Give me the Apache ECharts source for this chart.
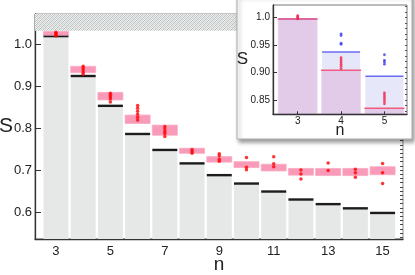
<!DOCTYPE html>
<html>
<head>
<meta charset="utf-8">
<script src="https://cdn.jsdelivr.net/npm/echarts@6/dist/echarts.min.js"></script>
<style>html,body{margin:0;padding:0;background:#fff}#c{width:415px;height:275px}</style>
</head>
<body>
<div id="c"></div>
<script>
// ---------- main chart data ----------
const nMain = [3,4,5,6,7,8,9,10,11,12,13,14,15];
const mainLine = [1.019,0.924,0.853,0.786,0.748,0.716,0.688,0.668,0.649,0.630,0.619,0.609,0.598];
const boxLow  = [1.021,0.932,0.867,0.811,0.783,0.740,0.719,0.706,0.698,0.688,0.687,0.687,0.689];
const boxHigh = [1.030,0.947,0.885,0.831,0.807,0.752,0.732,0.720,0.714,0.704,0.704,0.704,0.708];
const mainDots = [
  [1.028,1.025,1.022,1.019],
  [0.947,0.943,0.938,0.933,0.928],
  [0.883,0.878,0.874,0.869,0.862],
  [0.854,0.847,0.840,0.833,0.826,0.819],
  [0.804,0.798,0.792,0.787,0.780],
  [0.749,0.744,0.740],
  [0.739,0.734,0.726,0.721],
  [0.730,0.707,0.701],
  [0.732,0.715,0.708],
  [0.700,0.691,0.679],
  [0.717,0.699],
  [0.702,0.694,0.683],
  [0.716,0.694,0.668]
];
const mainYLabels = [0.6,0.7,0.8,0.9,1.0];
const mainXLabels = [3,5,7,9,11,13,15];
const mainHatchFrom = 1.032;

// ---------- inset data ----------
const nInset = [3,4,5];
const insetBlue = [0.997,0.937,0.893];
const insetRed  = [0.997,0.904,0.835];
const insetBlueDots = [[], [0.970,0.967,0.953,0.951], [0.932,0.922,0.919,0.915]];
const insetRedDots  = [[1.003,1.001,0.999,0.997], [0.927,0.923,0.919,0.915,0.911,0.907], [0.863,0.859,0.855,0.851,0.847,0.843]];
const insetYLabels = [0.85,0.90,0.95,1.0];
const insetXLabels = [3,4,5];
const insetHatchFrom = 1.002;

// axis extents
const M = {xmin:2.23, xmax:15.75, ymin:0.536, ymax:1.0716};
const I = {xmin:2.43, xmax:5.52, ymin:0.824, ymax:1.0223};

function range(a,b,s){const r=[];for(let v=a;v<=b+1e-9;v+=s)r.push(Math.round(v*1000)/1000);return r;}

// hatch pattern
const pc = document.createElement('canvas');
pc.width = 4; pc.height = 4;
const g = pc.getContext('2d');
g.fillStyle = '#eceeee'; g.fillRect(0,0,4,4);
g.fillStyle = '#bcc0c0';
[[0,0],[2,2],[1,3],[3,1]].forEach(p=>g.fillRect(p[0],p[1],1,1));
g.fillStyle = '#d0d4d4';
[[2,0],[0,2],[1,1],[3,3]].forEach(p=>g.fillRect(p[0],p[1],1,1));
const hatch = {image: pc, repeat: 'repeat'};

const font = '"Liberation Sans", Arial, Helvetica, sans-serif';

function barSeries(xs, vals, yMin, w, fill, lineColor, lineH, xi, yi, z){
  return {
    type:'custom', xAxisIndex:xi, yAxisIndex:yi, z:z, clip:true,
    data: xs.map((x,i)=>[x, vals[i]]),
    renderItem(params, api){
      const x = api.value(0), v = api.value(1);
      const p0 = api.coord([x, yMin]);
      const p1 = api.coord([x, v]);
      return {type:'group', children:[
        {type:'rect', shape:{x:p0[0]-w/2, y:p1[1], width:w, height:p0[1]-p1[1]}, style:{fill:fill}},
        {type:'rect', shape:{x:p0[0]-w/2, y:p1[1]-lineH/2, width:w, height:lineH}, style:{fill:lineColor}}
      ]};
    }
  };
}

const mainDotData = [];
nMain.forEach((n,i)=>mainDots[i].forEach(v=>mainDotData.push([n,v])));
const insetBlueData = [], insetRedData = [];
nInset.forEach((n,i)=>{ insetBlueDots[i].forEach(v=>insetBlueData.push([n,v])); insetRedDots[i].forEach(v=>insetRedData.push([n,v])); });

const axisLineDark = {show:true, lineStyle:{color:'#333', width:1.3}};

const option = {
  animation:false,
  backgroundColor:'#fff',
  grid:[
    {left:35, right:12, top:14, bottom:36, outerBoundsMode:'none', containLabel:false, show:true, borderColor:'#8a8a8a', borderWidth:1, backgroundColor:'transparent'},
    {left:273, right:8, top:5, height:109.3, outerBoundsMode:'none', containLabel:false, show:true, borderColor:'#777', borderWidth:1, z:20}
  ],
  xAxis:[
    {type:'value', gridIndex:0, min:M.xmin, max:M.xmax, splitLine:{show:false},
     axisLine:axisLineDark,
     axisTick:{show:true, inside:true, length:4, customValues:nMain, lineStyle:{color:'#333'}},
     axisLabel:{customValues:mainXLabels, fontSize:13, color:'#222', fontFamily:font, margin:6},
     name:'n', nameLocation:'middle', nameGap:16, nameMoveOverlap:false, nameTextStyle:{fontSize:19, color:'#222', fontFamily:font}},
    {type:'value', gridIndex:1, min:I.xmin, max:I.xmax, splitLine:{show:false}, z:21,
     axisLine:axisLineDark,
     axisTick:{show:true, inside:true, length:3, customValues:nInset, lineStyle:{color:'#333'}},
     axisLabel:{customValues:insetXLabels, fontSize:10, color:'#222', fontFamily:font, margin:2},
     name:'n', nameLocation:'middle', nameGap:8.5, nameMoveOverlap:false, nameTextStyle:{fontSize:16, color:'#222', fontFamily:font}}
  ],
  yAxis:[
    {type:'value', gridIndex:0, min:M.ymin, max:M.ymax, splitLine:{show:false},
     axisLine:axisLineDark,
     axisTick:{show:true, inside:true, length:6, customValues:mainYLabels, lineStyle:{color:'#333'}},
     axisLabel:{customValues:mainYLabels, formatter:v=>v.toFixed(1), fontSize:13, color:'#222', fontFamily:font, margin:3},
     name:'S', nameLocation:'middle', nameRotate:0, nameGap:22, nameMoveOverlap:false, nameTextStyle:{fontSize:21, color:'#222', fontFamily:font, padding:[12,0,0,0]}},
    {type:'value', gridIndex:0, min:M.ymin, max:M.ymax, splitLine:{show:false},
     axisLine:{show:false},
     axisTick:{show:true, inside:true, length:3, customValues:range(0.54,1.07,0.01), lineStyle:{color:'#444'}},
     axisLabel:{show:false}},
    {type:'value', gridIndex:1, min:I.ymin, max:I.ymax, splitLine:{show:false}, z:21,
     axisLine:axisLineDark,
     axisTick:{show:true, inside:true, length:4, customValues:insetYLabels, lineStyle:{color:'#333'}},
     axisLabel:{customValues:insetYLabels, formatter:v=>(v===1?'1.0':v.toFixed(2)), fontSize:10, color:'#222', fontFamily:font, margin:3},
     name:'S', nameLocation:'middle', nameRotate:0, nameGap:25, nameMoveOverlap:false, nameTextStyle:{fontSize:17, color:'#222', fontFamily:font}},
    {type:'value', gridIndex:1, min:I.ymin, max:I.ymax, splitLine:{show:false}, z:21,
     axisLine:{show:false},
     axisTick:{show:true, inside:true, length:2, customValues:range(0.83,1.02,0.01), lineStyle:{color:'#555'}},
     axisLabel:{show:false}}
  ],
  graphic:[
    {type:'rect', z:10, shape:{x:237, y:-5, width:175, height:144},
     style:{fill:'#fff', stroke:'#b0b0b0', lineWidth:1, shadowBlur:4, shadowOffsetX:2, shadowOffsetY:3, shadowColor:'rgba(0,0,0,0.4)'}}
  ],
  series:[
    barSeries(nMain, mainLine, M.ymin, 25, '#e6e8e8', '#1c1c1c', 2.4, 0, 0, 2),
    {type:'custom', xAxisIndex:0, yAxisIndex:0, z:3, clip:true,
     data: nMain.map((n,i)=>[n, boxLow[i], boxHigh[i]]),
     renderItem(params, api){
       const x=api.value(0);
       const a=api.coord([x, api.value(1)]), b=api.coord([x, api.value(2)]);
       return {type:'rect', shape:{x:a[0]-12.5, y:b[1], width:25, height:a[1]-b[1]},
               style:{fill:'rgba(245,120,160,0.75)', stroke:'rgba(250,170,195,0.8)', lineWidth:1}};
     }},
    {type:'scatter', xAxisIndex:0, yAxisIndex:0, z:4, symbol:'circle', symbolSize:3.5,
     itemStyle:{color:'#f00'}, data: mainDotData,
     markArea:{silent:true, itemStyle:{color:hatch}, data:[[{yAxis:mainHatchFrom},{yAxis:M.ymax}]]}},
    barSeries(nInset, insetBlue, I.ymin, 38, 'rgba(200,205,245,0.45)', '#6a6af2', 1.5, 1, 2, 20),
    barSeries(nInset, insetRed, I.ymin, 40, 'rgba(215,150,200,0.35)', '#f25a80', 1.6, 1, 2, 21),
    {type:'scatter', xAxisIndex:1, yAxisIndex:2, z:22, symbol:'circle', symbolSize:2.8,
     itemStyle:{color:'#3b3bf2'}, data: insetBlueData,
     markArea:{silent:true, itemStyle:{color:hatch}, data:[[{yAxis:insetHatchFrom},{yAxis:I.ymax}]]}},
    {type:'scatter', xAxisIndex:1, yAxisIndex:2, z:23, symbol:'circle', symbolSize:2.8,
     itemStyle:{color:'#f2204a'}, data: insetRedData}
  ]
};
echarts.init(document.getElementById('c'), null, {renderer:'canvas'}).setOption(option);
</script>
</body>
</html>
